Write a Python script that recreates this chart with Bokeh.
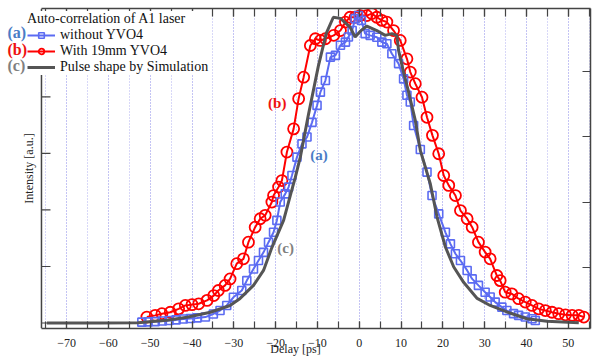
import math
from bokeh.plotting import figure
from bokeh.models import (Range1d, LinearAxis, SingleIntervalTicker, FixedTicker,
                          Legend, LegendItem, Label, Span, CustomJSTickFormatter)
from bokeh.embed import file_html
from bokeh.resources import INLINE

# ---- data ----
delay_a = [-52.0, -50.5, -48.8, -47.1, -45.5, -43.8, -42.1, -40.4, -38.8, -36.8,
           -34.9, -33.3, -31.7, -30.1, -28.1, -26.9, -25.3, -24.1, -22.9, -21.7,
           -20.5, -19.7, -18.9, -17.7, -16.9, -16.1, -14.9, -13.7, -12.5, -11.3,
           -10.1, -9.3, -8.1, -6.9, -5.7, -4.5, -3.3, -2.6, -1.7, -1.0,
           -0.2, 0.5, 1.4, 2.6, 4.2, 5.4, 6.6, 7.8, 9.4, 10.6,
           11.4, 12.2, 13.0, 14.6, 16.2, 17.4, 19.0, 20.6, 21.8, 23.0,
           24.2, 25.8, 27.0, 28.5, 30.1, 31.3, 32.5, 34.1, 35.3, 36.9,
           38.1, 39.7, 41.3, 42.1]
int_a = [0.003, 0.004, 0.005, 0.007, 0.009, 0.011, 0.014, 0.016, 0.018, 0.021,
         0.032, 0.044, 0.062, 0.091, 0.115, 0.150, 0.191, 0.221, 0.250, 0.286,
         0.321, 0.363, 0.428, 0.457, 0.481, 0.522, 0.587, 0.634, 0.658, 0.710,
         0.770, 0.817, 0.858, 0.941, 0.947, 0.983, 0.994, 1.012, 1.035, 1.077,
         1.088, 1.071, 1.024, 1.018, 1.011, 0.994, 0.988, 0.953, 0.918, 0.864,
         0.806, 0.782, 0.699, 0.614, 0.534, 0.451, 0.386, 0.321, 0.280, 0.245,
         0.221, 0.186, 0.156, 0.133, 0.109, 0.092, 0.074, 0.056, 0.044, 0.033,
         0.027, 0.021, 0.015, 0.009]

delay_b = [-50.8, -48.8, -47.2, -45.2, -43.2, -41.6, -40.0, -38.4, -36.4, -34.8,
           -33.7, -32.1, -30.9, -29.3, -27.7, -26.5, -24.9, -23.7, -22.5, -20.9,
           -20.5, -19.3, -18.5, -17.3, -15.7, -14.5, -13.3, -11.7, -10.5, -9.3,
           -8.1, -6.1, -4.5, -3.3, -2.2, -1.0, 0.2, 1.8, 3.0, 4.2,
           5.4, 6.6, 8.2, 9.8, 11.4, 12.2, 13.4, 15.0, 16.2, 17.5,
           19.0, 20.2, 21.4, 23.0, 24.2, 25.8, 27.0, 28.5, 30.1, 31.3,
           32.9, 33.7, 34.9, 36.5, 38.1, 39.7, 41.3, 42.9, 44.5, 46.1,
           47.7, 49.3, 50.9, 52.5, 53.7]
int_b = [0.021, 0.027, 0.033, 0.038, 0.050, 0.062, 0.065, 0.068, 0.080, 0.097,
         0.115, 0.133, 0.156, 0.210, 0.227, 0.286, 0.339, 0.369, 0.381, 0.428,
         0.451, 0.481, 0.504, 0.605, 0.687, 0.794, 0.870, 0.982, 1.006, 1.000,
         1.006, 1.018, 1.035, 1.065, 1.082, 1.082, 1.088, 1.088, 1.095, 1.082,
         1.071, 1.065, 1.035, 1.000, 0.935, 0.888, 0.847, 0.799, 0.728, 0.664,
         0.599, 0.522, 0.487, 0.451, 0.398, 0.369, 0.339, 0.286, 0.251, 0.227,
         0.168, 0.150, 0.109, 0.103, 0.086, 0.074, 0.062, 0.050, 0.044, 0.038,
         0.033, 0.029, 0.027, 0.027, 0.021]

delay_c = [-74.7, -62.0, -52.9, -46.0, -41.2, -35.6, -30.9, -28.5, -25.3, -22.9,
           -20.9, -18.1, -16.5, -15.3, -14.1, -12.2, -9.8, -7.9, -6.2, -4.5,
           -2.2, -1.0, 0.2, 1.8, 4.2, 6.2, 7.8, 9.0, 9.4, 10.6,
           11.7, 13.4, 14.6, 17.0, 18.6, 20.6, 22.6, 25.0, 28.2, 31.3,
           35.3, 40.1, 44.9, 52.5]
int_c = [0.000, 0.000, 0.001, 0.010, 0.020, 0.038, 0.062, 0.087, 0.133, 0.186,
         0.267, 0.363, 0.451, 0.515, 0.587, 0.734, 0.908, 1.025, 1.082, 1.078,
         1.047, 1.012, 1.032, 1.051, 1.035, 1.018, 1.024, 1.018, 0.965, 0.887,
         0.823, 0.717, 0.611, 0.492, 0.375, 0.269, 0.198, 0.143, 0.087, 0.062,
         0.039, 0.015, 0.006, 0.001]

left_ticks = [0.0, 0.2, 0.4, 0.6, 0.8, 1.0]
right_ticks = [1, 2, 3, 4]

legend_title = "Auto-correlation of A1 laser"
series_names = ["without YVO4", "With 19mm YVO4", "Pulse shape by Simulation"]
series_tags = ["(a)", "(b)", "(c)"]
x_label = "Delay [ps]"
y_label = "Intensity [a.u.]"

BLUE = "#5b6bf2"
RED = "#ff0000"
GRAY = "#555555"
TAG_COLORS = ["#4a7cc6", "#ee1111", "#808080"]
AXC = "#444444"
SERIF = "Liberation Serif"

X_AXIS_START = -76.0     # where the left axis sits
X_END = 55.3
X_VIEW_START = -85.8     # room on the left for the legend tags

p = figure(width=592, height=358, x_range=Range1d(X_VIEW_START, X_END),
           y_range=Range1d(-0.0195, 1.113), output_backend="svg",
           toolbar_location=None, y_axis_location=None,
           min_border_left=0, min_border_right=2,
           min_border_top=8, min_border_bottom=30)
p.extra_y_ranges = {"r": Range1d(0.066, 4.966)}
p.outline_line_color = None
p.background_fill_color = "white"

empty = CustomJSTickFormatter(code="return ''")

def style_axis(ax, tick_in):
    ax.axis_line_color = AXC
    ax.axis_line_width = 1.5
    ax.major_tick_line_color = AXC
    ax.minor_tick_line_color = AXC
    ax.major_tick_line_width = 1.2
    ax.minor_tick_line_width = 1.2
    ax.major_tick_in = tick_in
    ax.major_tick_out = 0
    ax.minor_tick_in = tick_in
    ax.minor_tick_out = 0

xb = p.xaxis[0]
xb.ticker = SingleIntervalTicker(interval=10, num_minor_ticks=2)
xb.bounds = (X_AXIS_START, X_END)
style_axis(xb, 7)
xb.major_label_text_font = SERIF
xb.major_label_text_font_size = "12px"
xb.major_label_text_color = "#222222"
xb.major_label_standoff = 10
xb.axis_label = x_label
xb.axis_label_text_font = SERIF
xb.axis_label_text_font_size = "12px"
xb.axis_label_text_font_style = "normal"
xb.axis_label_text_color = "#222222"
xb.axis_label_standoff = -8

xt = LinearAxis(ticker=SingleIntervalTicker(interval=10, num_minor_ticks=2),
                formatter=empty, bounds=(X_AXIS_START, X_END))
style_axis(xt, 8)
xt.major_label_text_font_size = "0px"
xt.major_label_standoff = 0
p.add_layout(xt, "above")

yr = LinearAxis(y_range_name="r", ticker=FixedTicker(ticks=right_ticks),
                formatter=empty)
style_axis(yr, 8)
yr.minor_tick_in = 0
yr.major_label_text_font_size = "0px"
yr.major_label_standoff = 0
p.add_layout(yr, "right")

p.xgrid.ticker = SingleIntervalTicker(interval=10, num_minor_ticks=2)
p.xgrid.bounds = (X_AXIS_START, X_END)
p.xgrid.grid_line_color = "#b0b0f0"
p.xgrid.grid_line_dash = "1 2"
p.xgrid.grid_line_width = 1
p.xgrid.minor_grid_line_color = "#b0b0f0"
p.xgrid.minor_grid_line_dash = "1 2"
p.ygrid.visible = False

# left axis: line at the start of the delay axis, inward ticks of 9 px
p.add_layout(Span(location=X_AXIS_START, dimension="height",
                  line_color=AXC, line_width=1.5))
p.ray(x=[X_AXIS_START] * len(left_ticks), y=left_ticks, length=9,
      length_units="screen", angle=0, line_color=AXC, line_width=1.2)
p.add_layout(Label(x=28, y=160, x_units="screen", y_units="screen",
                   text=y_label, angle=math.pi / 2, text_align="center",
                   text_baseline="middle", text_font=SERIF,
                   text_font_size="12px", text_color="#222222"))

lb = p.line(delay_b, int_b, line_color=RED, line_width=2)
sb = p.scatter(delay_b, int_b, marker="circle", size=11, fill_color=None,
               line_color=RED, line_width=1.8)
la = p.line(delay_a, int_a, line_color=BLUE, line_width=2)
sa = p.scatter(delay_a, int_a, marker="square", size=8, fill_color=None,
               line_color=BLUE, line_width=1.6)
lc = p.line(delay_c, int_c, line_color=GRAY, line_width=3)

legend = Legend(items=[LegendItem(label=series_names[0], renderers=[la, sa]),
                       LegendItem(label=series_names[1], renderers=[lb, sb]),
                       LegendItem(label=series_names[2], renderers=[lc])],
                title=legend_title, location=(27, 253))
legend.title_text_font = SERIF
legend.title_text_font_size = "14px"
legend.title_text_font_style = "normal"
legend.title_text_color = "#111111"
legend.title_standoff = 0
legend.label_text_font = SERIF
legend.label_text_font_size = "14px"
legend.label_text_color = "#111111"
legend.glyph_width = 28
legend.glyph_height = 14
legend.label_height = 14
legend.spacing = 0
legend.padding = 4
legend.margin = 0
legend.label_standoff = 5
legend.border_line_color = None
legend.background_fill_color = "white"
legend.background_fill_alpha = 1.0
p.add_layout(legend)

tag_rows = [296, 279.5, 263]
for tag, col, yy in zip(series_tags, TAG_COLORS, tag_rows):
    p.add_layout(Label(x=7, y=yy, x_units="screen", y_units="screen",
                       text=tag, text_color=col, text_font=SERIF,
                       text_font_size="16px", text_font_style="bold",
                       text_baseline="middle"))

# curve tags inside the plot (data coordinates)
tag_x = [-11.7, -21.8, -19.6]
tag_y = [0.593, 0.78, 0.267]
for tag, col, xx, yy in zip(series_tags, TAG_COLORS, tag_x, tag_y):
    p.add_layout(Label(x=xx, y=yy, text=tag, text_color=col, text_font=SERIF,
                       text_font_size="15px", text_font_style="bold",
                       text_baseline="middle"))

open("out.html", "w").write(file_html(p, INLINE))
